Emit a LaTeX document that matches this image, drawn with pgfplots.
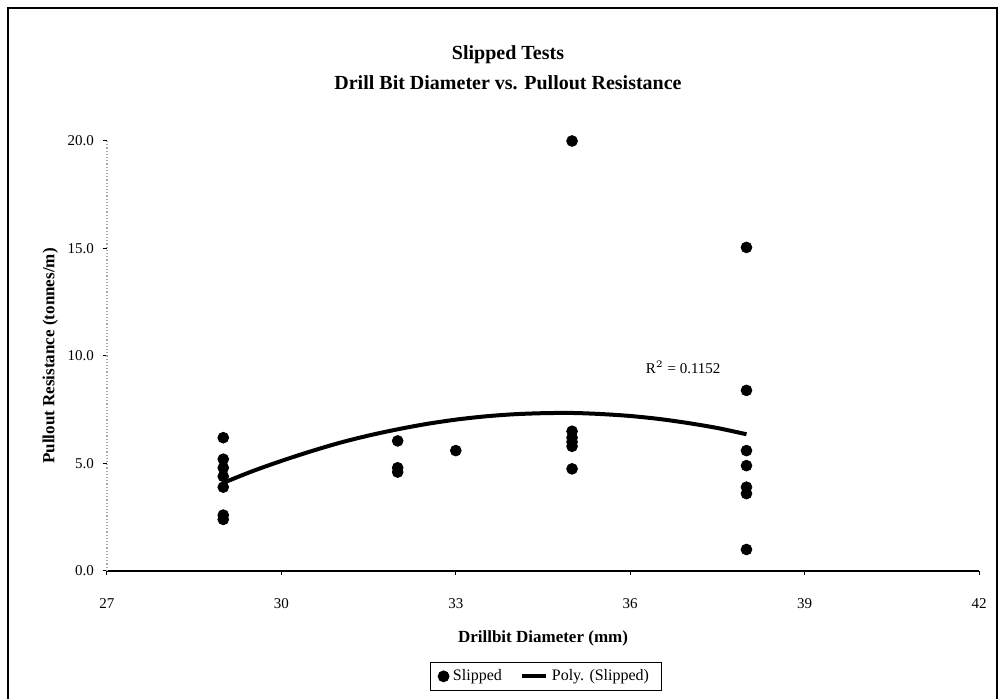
\documentclass[border=0pt]{standalone}
\usepackage{fontspec}
\setmainfont{Liberation Serif}
\usepackage{pgfplots}
\pgfplotsset{compat=1.18}

\begin{document}
\begin{tikzpicture}[x=1pt,y=1pt]
% 1 px of the reference = 0.5pt; plot area lower left at (0,0)
\useasboundingbox (-53.5,-64) rectangle (446.5,285.5);
\draw[line width=1.2pt] (-49.5,-70) rectangle (445,281.5);
\begin{axis}[
    at={(0,0)}, anchor=south west,
    scale only axis,
    width=436pt, height=215pt,
    xmin=27, xmax=42, ymin=0, ymax=20,
    xtick={27,30,...,42}, ytick={0,5,10,15,20},
    axis lines=left,
    axis line style={-},
    x axis line style={black, line width=0.8pt},
    y axis line style={gray!70, densely dotted, line width=0.6pt},
    tick align=outside,
    major tick length=2pt,
    tick style={black, line width=0.5pt},
    yticklabel style={/pgf/number format/fixed, /pgf/number format/fixed zerofill,
        /pgf/number format/precision=1},
    /pgf/number format/assume math mode=true,
    tick label style={font=\fontsize{7.5}{9}\selectfont},
    xticklabel style={yshift=-6pt, text height=1.6ex, text depth=0pt},
    yticklabel style={xshift=-1pt},
    xlabel={Drillbit Diameter (mm)},
    ylabel={Pullout Resistance (tonnes/m)},
    label style={font=\fontsize{8.5}{10}\selectfont\bfseries},
    xlabel style={yshift=-4pt},
    ylabel style={yshift=-2pt},
    legend columns=2,
    legend style={at={(0.503,-0.245)}, anchor=center,
        draw=black, line width=0.5pt, inner xsep=4pt, inner ysep=1.5pt,
        font=\fontsize{8}{9.5}\selectfont,
        /tikz/every even column/.append style={column sep=7pt}},
    legend cell align=left,
    clip=false,
]
\addplot[only marks, mark=*, mark size=2.7pt, black]
    coordinates {
    (29,6.2)(29,5.2)(29,4.8)(29,4.4)(29,3.9)(29,2.6)(29,2.4)
    (32,6.05)(32,4.8)(32,4.6)
    (33,5.6)
    (35,20.0)(35,6.5)(35,6.2)(35,6.0)(35,5.8)(35,4.75)
    (38,15.05)(38,8.4)(38,5.6)(38,4.9)(38,3.9)(38,3.6)(38,1.0)
    };
\addlegendentry{Slipped}
\addplot[black, line width=2pt, smooth,
    legend image code/.code={\draw[black, line width=2pt] (0pt,0pt) -- (12pt,0pt);}]
    coordinates {
    (29,4.10)(29.5,4.64)(30,5.12)(30.5,5.56)(31,5.96)(31.5,6.30)
    (32,6.59)(32.5,6.84)(33,7.04)(33.5,7.19)(34,7.29)(34.5,7.34)
    (35,7.35)(35.5,7.30)(36,7.21)(36.5,7.07)(37,6.88)(37.5,6.65)(38,6.36)
    };
\addlegendentry{Poly. (Slipped)}
\node[anchor=west, font=\fontsize{7.5}{9}\selectfont] at (axis cs:36.15,9.45) {R$^{2}$ = 0.1152};
\end{axis}
\node[font=\fontsize{10}{12}\selectfont\bfseries] at (200.5,258) {Slipped Tests};
\node[font=\fontsize{10}{12}\selectfont\bfseries] at (200.5,244) {Drill Bit Diameter vs. Pullout Resistance};
\end{tikzpicture}
\end{document}
